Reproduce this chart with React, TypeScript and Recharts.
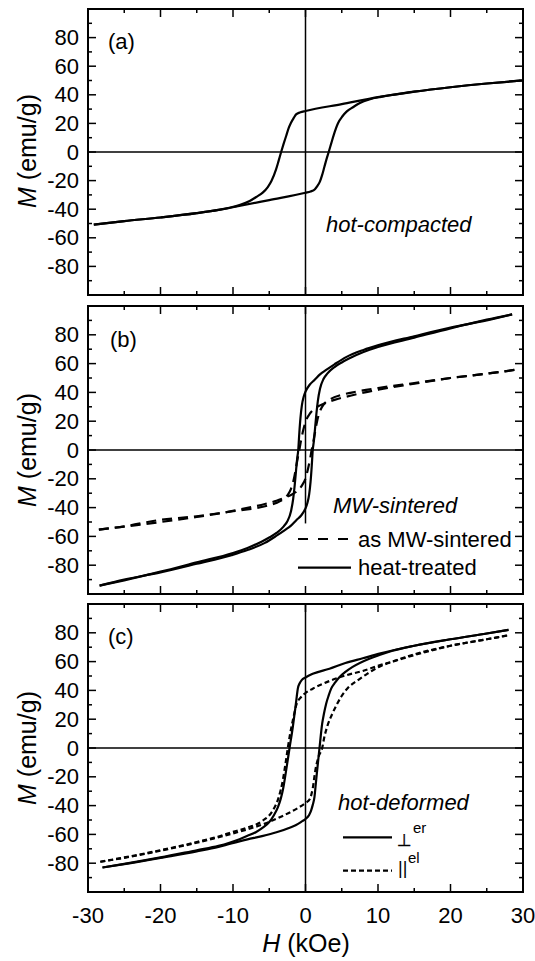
import { LineChart, Line, XAxis, YAxis, ReferenceLine } from 'recharts';

const FONT = 'Arial, "Liberation Sans", sans-serif';

const xTicks = [-30, -25, -20, -15, -10, -5, 0, 5, 10, 15, 20, 25, 30];
const yTicks = [-90, -80, -70, -60, -50, -40, -30, -20, -10, 0, 10, 20, 30, 40, 50, 60, 70, 80, 90];

// [H (kOe), M (emu/g)], each branch sorted by H
// (a) hot-compacted
const aDown = [[-29.2, -50.8], [-25, -48.3], [-20, -45.8], [-15, -42.8], [-12, -40.5], [-10.5, -39], [-9, -37], [-7.7, -34.3], [-6.8, -31.5], [-5.9, -28.4], [-5.2, -24.5], [-4.7, -20.3], [-4.05, -12], [-3.7, -6], [-3.36, 0], [-3.0, 6], [-2.67, 11.2], [-2.3, 17], [-2.0, 20.5], [-1.6, 24], [-1.3, 26.3], [-0.7, 27.8], [0, 28.7], [5, 33.5], [10.2, 38.5], [12, 40], [15, 42.2], [20, 45.3], [25, 47.9], [29.9, 50]];
const aUp = [[-29.2, -50.8], [-25, -48.3], [-20, -45.8], [-15, -42.8], [-12, -40.5], [-10.2, -38.8], [-5, -33.6], [0, -28.5], [0.7, -27.6], [1.3, -26], [1.6, -24], [2.0, -20.5], [2.3, -16], [2.6, -10.5], [2.9, -5], [3.2, 0], [3.55, 6], [3.9, 12], [4.5, 20.3], [5.1, 25], [5.7, 28.4], [6.6, 31.5], [7.5, 34.3], [8.8, 36.8], [10.4, 38.6], [12, 40], [15, 42.2], [20, 45.3], [25, 47.9], [29.9, 50]];

// (b) MW-sintered: heat-treated (solid) and as MW-sintered (dashed)
const bHeatDown = [[-28.4, -94.2], [-25, -90.5], [-20, -84.5], [-15, -78], [-10, -71.5], [-8, -68], [-6, -63.5], [-5, -60.8], [-4, -57.6], [-3, -53], [-2.5, -49.5], [-2, -42.5], [-1.7, -34], [-1.5, -25], [-1.3, -14], [-1.15, -6], [-1.0, 0], [-0.85, 12], [-0.7, 22], [-0.5, 31], [-0.25, 37], [0, 40.5], [0.6, 45.5], [1.24, 48.6], [2, 52.5], [2.85, 55.6], [4, 59.5], [5.6, 64.5], [8, 69.5], [10.2, 73], [15, 79], [20, 85], [25, 90], [28.5, 94.2]];
const bHeatUp = [[-28.4, -94.2], [-25, -90], [-20, -85], [-15, -79], [-10.2, -73], [-8, -69.5], [-5.6, -64.5], [-4, -59.5], [-2.85, -55.6], [-2, -52.5], [-1.24, -48.6], [-0.6, -45.5], [0, -40.5], [0.25, -37], [0.5, -31], [0.7, -22], [0.85, -12], [1.0, 0], [1.15, 6], [1.3, 14], [1.5, 25], [1.7, 34], [2, 42.5], [2.5, 49.5], [3, 53], [4, 57.6], [5, 60.8], [6, 63.5], [8, 68], [10, 71.5], [15, 78], [20, 84.5], [25, 90.5], [28.5, 94.2]];
const bAsDown = [[-28.5, -55.3], [-25, -53], [-20, -48.5], [-15, -46], [-10, -42.5], [-7, -40.5], [-5, -38.3], [-3.5, -35.5], [-2.5, -31.5], [-2, -27], [-1.6, -20], [-1.3, -12], [-1.05, -5], [-0.85, 0], [-0.6, 7], [-0.3, 14], [0, 19.5], [0.5, 24.5], [1.2, 28.5], [2, 31], [2.85, 32.8], [4, 34.8], [5.6, 37], [8, 39.8], [10.2, 42], [15, 46], [20, 50], [25, 53], [29.1, 55.8]];
const bAsUp = [[-28.5, -55.3], [-25, -53.2], [-20, -50], [-15, -46.5], [-10.2, -42.5], [-8, -40.2], [-5.6, -37.5], [-4, -35.2], [-2.85, -33], [-2, -31.2], [-1.2, -28.7], [-0.5, -24.7], [0, -19.8], [0.3, -14], [0.6, -7], [0.85, 0], [1.05, 5], [1.3, 12], [1.6, 20], [2, 27], [2.5, 31.5], [3.5, 35.5], [5, 38.3], [7, 40.5], [10, 43], [15, 46.5], [20, 50], [25, 53], [29.1, 55.8]];

// (c) hot-deformed: perpendicular (solid) and parallel (dotted)
const cPerpDown = [[-28, -83], [-25, -80.5], [-20, -76], [-15, -71], [-12, -68], [-10.5, -65.8], [-9.1, -63.3], [-8, -61], [-6.8, -58.3], [-5.8, -55], [-5.0, -51.4], [-4.4, -47], [-3.8, -41], [-3.4, -35], [-3.13, -29.4], [-2.67, -15.5], [-2.2, 0], [-1.75, 14.6], [-1.5, 24], [-1.38, 28.5], [-1.2, 36], [-1.06, 41.2], [-0.8, 45], [-0.5, 47.3], [0, 49], [1, 51.5], [3.3, 55], [5.5, 59], [7.9, 62.3], [10.2, 65.5], [15, 71], [20, 75.5], [25, 79.5], [28, 82]];
const cPerpUp = [[-28, -83], [-25, -80.7], [-20, -76.3], [-15, -71.8], [-12, -68.7], [-10.5, -66.7], [-8, -63.5], [-6, -61.2], [-4, -58.5], [-2, -55], [-1.3, -53.5], [-0.5, -51], [0, -49.3], [0.5, -46.5], [0.78, -43.3], [1.0, -39.5], [1.24, -34], [1.4, -26], [1.56, -17.8], [1.93, 0], [2.3, 16.9], [2.55, 24], [2.85, 30.8], [3.2, 36.5], [3.54, 41.2], [4.1, 45.5], [4.7, 49.3], [5.5, 52.8], [6.5, 56.3], [8.8, 62], [10.2, 64.6], [12, 67.5], [15, 71], [20, 75.5], [25, 79.5], [28, 82]];
const cParDown = [[-28.3, -79], [-25, -76], [-20, -71], [-15, -65.3], [-12, -61.5], [-10.5, -59], [-8.2, -55.5], [-5.9, -50.5], [-4.5, -43.3], [-3.68, -34], [-3.13, -22.5], [-2.76, -10.9], [-2.44, 0], [-2.2, 7.6], [-1.75, 19.2], [-1.5, 25], [-1.29, 29.6], [-0.6, 35.4], [0, 38.2], [1.0, 41.2], [3.3, 46.5], [5.6, 50.5], [7.9, 53.5], [10.2, 57.4], [12, 60], [15, 64.5], [20, 71], [25, 75.5], [28, 78.3]];
const cParUp = [[-28.3, -79], [-25, -76.3], [-20, -71.3], [-15, -65.8], [-10.5, -60], [-8, -56.5], [-5.6, -52.5], [-3.3, -47.5], [-1, -41.5], [0, -38.2], [0.6, -35.4], [1.0, -28], [1.36, -15.5], [1.8, -6], [2.3, 0], [2.6, 7.6], [3.0, 15], [3.7, 23.8], [4.3, 30], [4.9, 35.4], [5.9, 42], [7.2, 47], [8.5, 51.5], [10.2, 56.5], [12, 60], [15, 65], [20, 71], [25, 75.5], [28, 78.3]];

const toPts = (arr: number[][]) => arr.map(([h, m]) => ({ h, m }));

const frame = { stroke: '#000', strokeWidth: 2, strokeLinecap: 'square' as const };

const bottomTick = (withLabels: boolean) => (props: any) => {
  const { x, y, payload } = props;
  const v = payload.value;
  const major = v % 10 === 0;
  return (
    <g>
      <line x1={x} x2={x} y1={y} y2={y - (major ? 8 : 4)} stroke="#000" strokeWidth={1.5} />
      {withLabels && major && (
        <text x={x} y={y + 23} textAnchor="middle" dominantBaseline="central" fontSize={22} fontFamily={FONT} fill="#000">
          {v}
        </text>
      )}
    </g>
  );
};

const topTick = (props: any) => {
  const { x, y, payload } = props;
  const major = payload.value % 10 === 0;
  return <line x1={x} x2={x} y1={y} y2={y + (major ? 8 : 4)} stroke="#000" strokeWidth={1.5} />;
};

const leftTick = (props: any) => {
  const { x, y, payload } = props;
  const v = payload.value;
  const major = v % 20 === 0;
  return (
    <g>
      <line x1={x} x2={x + (major ? 8 : 4)} y1={y} y2={y} stroke="#000" strokeWidth={1.5} />
      {major && (
        <text x={x - 9} y={y} textAnchor="end" dominantBaseline="central" fontSize={22} fontFamily={FONT} fill="#000">
          {v}
        </text>
      )}
    </g>
  );
};

const rightTick = (props: any) => {
  const { x, y, payload } = props;
  const major = payload.value % 20 === 0;
  return <line x1={x} x2={x - (major ? 8 : 4)} y1={y} y2={y} stroke="#000" strokeWidth={1.5} />;
};

type Curve = { key: string; pts: number[][]; dash?: string };

// axes are 1px thick (zero-size axes are not drawn), margins account for that
const Panel = ({ top, height, plotTop, plotBottom, curves, xLabels, vSegment, children }: any) => (
  <div style={{ position: 'absolute', left: 0, top, width: 535, height }}>
    <LineChart width={535} height={height} margin={{ top: plotTop - 1, right: 11, bottom: height - plotBottom - 1, left: 87 }}>
      <XAxis type="number" dataKey="h" domain={[-30, 30]} ticks={xTicks} interval={0} allowDataOverflow height={1} tickSize={0} tickMargin={0} tickLine={false} axisLine={frame} tick={bottomTick(xLabels)} />
      <XAxis xAxisId="top" orientation="top" type="number" dataKey="h" domain={[-30, 30]} ticks={xTicks} interval={0} allowDataOverflow height={1} tickSize={0} tickMargin={0} tickLine={false} axisLine={frame} tick={topTick} />
      <YAxis type="number" domain={[-100, 100]} ticks={yTicks} interval={0} allowDataOverflow width={1} tickSize={0} tickMargin={0} tickLine={false} axisLine={frame} tick={leftTick} />
      <YAxis yAxisId="right" orientation="right" type="number" domain={[-100, 100]} ticks={yTicks} interval={0} allowDataOverflow width={1} tickSize={0} tickMargin={0} tickLine={false} axisLine={frame} tick={rightTick} />
      <ReferenceLine y={0} stroke="#000" strokeWidth={1.5} />
      {vSegment ? (
        <ReferenceLine segment={vSegment} stroke="#000" strokeWidth={1.5} />
      ) : (
        <ReferenceLine x={0} stroke="#000" strokeWidth={1.5} />
      )}
      {curves.map((c: Curve) => (
        <Line
          key={c.key}
          data={toPts(c.pts)}
          dataKey="m"
          type="monotone"
          stroke="#000"
          strokeWidth={2.2}
          strokeDasharray={c.dash}
          dot={false}
          activeDot={false}
          isAnimationActive={false}
        />
      ))}
    </LineChart>
    <svg width={535} height={height} style={{ position: 'absolute', left: 0, top: 0, pointerEvents: 'none' }} fontFamily={FONT} fontSize={22} fill="#000">
      {children}
    </svg>
  </div>
);

const MTitle = ({ cy }: { cy: number }) => (
  <text x={27} y={cy} transform={`rotate(-90, 27, ${cy})`} textAnchor="middle" dominantBaseline="central" fontSize={25}>
    <tspan fontStyle="italic">M</tspan> (emu/g)
  </text>
);

const App = () => (
  <div style={{ position: 'absolute', left: 0, top: 0, width: 535, height: 961, background: '#fff' }}>
    <Panel
      top={0}
      height={300}
      plotTop={9}
      plotBottom={295}
      xLabels={false}
      curves={[
        { key: 'aDown', pts: aDown },
        { key: 'aUp', pts: aUp },
      ]}
    >
      <MTitle cy={151} />
      <text x={108} y={41} dominantBaseline="central">(a)</text>
      <text x={326} y={224} dominantBaseline="central" fontStyle="italic">hot-compacted</text>
    </Panel>
    <Panel
      top={300}
      height={300}
      plotTop={6}
      plotBottom={294}
      xLabels={false}
      vSegment={[{ x: 0, y: 100 }, { x: 0, y: -51 }]}
      curves={[
        { key: 'bAsDown', pts: bAsDown, dash: '10 6' },
        { key: 'bAsUp', pts: bAsUp, dash: '10 6' },
        { key: 'bHeatDown', pts: bHeatDown },
        { key: 'bHeatUp', pts: bHeatUp },
      ]}
    >
      <MTitle cy={150} />
      <text x={110} y={39} dominantBaseline="central">(b)</text>
      <text x={333} y={205} dominantBaseline="central" fontStyle="italic">MW-sintered</text>
      <line x1={298} x2={351} y1={239} y2={239} stroke="#000" strokeWidth={2.2} strokeDasharray="10 10" />
      <text x={358} y={239} dominantBaseline="central">as MW-sintered</text>
      <line x1={298} x2={351} y1={267.7} y2={267.7} stroke="#000" strokeWidth={2.2} />
      <text x={358} y={267.7} dominantBaseline="central">heat-treated</text>
    </Panel>
    <Panel
      top={600}
      height={361}
      plotTop={4}
      plotBottom={292}
      xLabels={true}
      curves={[
        { key: 'cParDown', pts: cParDown, dash: '5 3' },
        { key: 'cParUp', pts: cParUp, dash: '5 3' },
        { key: 'cPerpDown', pts: cPerpDown },
        { key: 'cPerpUp', pts: cPerpUp },
      ]}
    >
      <MTitle cy={148} />
      <text x={108} y={36} dominantBaseline="central">(c)</text>
      <text x={338} y={202} dominantBaseline="central" fontStyle="italic">hot-deformed</text>
      <line x1={343} x2={392} y1={237.3} y2={237.3} stroke="#000" strokeWidth={2.2} />
      <text x={397} y={246} fontFamily='"DejaVu Sans", sans-serif' fontSize={17} stroke="#000" strokeWidth={0.3}>⊥</text>
      <text x={413} y={233} fontSize={15}>er</text>
      <line x1={343} x2={392} y1={270.7} y2={270.7} stroke="#000" strokeWidth={2.2} strokeDasharray="5 3" />
      <text x={398} y={274} fontSize={18}>||</text>
      <text x={408} y={263} fontSize={15}>el</text>
      <text x={306} y={343} textAnchor="middle" dominantBaseline="central" fontSize={25}>
        <tspan fontStyle="italic">H</tspan> (kOe)
      </text>
    </Panel>
  </div>
);

export default App;
